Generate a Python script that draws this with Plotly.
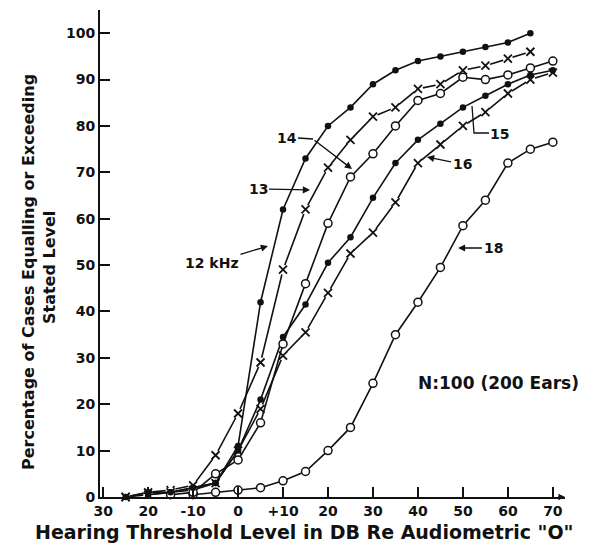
import plotly.graph_objects as go

# ---------------- data ----------------
x12 = [-25, -20, -15, -10, -5, 0, 5, 10, 15, 20, 25, 30, 35, 40, 45, 50, 55, 60, 65]
y12 = [0, 1, 1, 2, 3, 11, 42, 62, 73, 80, 84, 89, 92, 94, 95, 96, 97, 98, 100]

x13 = [-25, -20, -15, -10, -5, 0, 5, 10, 15, 20, 25, 30, 35, 40, 45, 50, 55, 60, 65]
y13 = [0, 1, 1.5, 2.5, 9, 18, 29, 49, 62, 71, 77, 82, 84, 88, 89, 92, 93, 94.5, 96]

x14 = [-15, -10, -5, 0, 5, 10, 15, 20, 25, 30, 35, 40, 45, 50, 55, 60, 65, 70]
y14 = [0.5, 1, 5, 8, 16, 33, 46, 59, 69, 74, 80, 85.5, 87, 90.5, 90, 91, 92.5, 94]

x15 = [-20, -15, -10, -5, 0, 5, 10, 15, 20, 25, 30, 35, 40, 45, 50, 55, 60, 65, 70]
y15 = [0.5, 1, 2, 3, 10, 21, 34.5, 41.5, 50.5, 56, 64.5, 72, 77, 80.5, 84, 86.5, 89, 91, 92]

x16 = [-25, -20, -15, -10, -5, 0, 5, 10, 15, 20, 25, 30, 35, 40, 45, 50, 55, 60, 65, 70]
y16 = [0, 0.5, 1, 1.5, 3, 10, 19, 30.5, 35.5, 44, 52.5, 57, 63.5, 72, 76, 80, 83, 87, 90, 91.5]

x18 = [-10, -5, 0, 5, 10, 15, 20, 25, 30, 35, 40, 45, 50, 55, 60, 65, 70]
y18 = [0.5, 1, 1.5, 2, 3.5, 5.5, 10, 15, 24.5, 35, 42, 49.5, 58.5, 64, 72, 75, 76.5]

x_tick_vals = [-30, -20, -10, 0, 10, 20, 30, 40, 50, 60, 70]
x_tick_text = ["30", "20", "-10", "0", "+10", "20", "30", "40", "50", "60", "70"]
y_tick_vals = [0, 10, 20, 30, 40, 50, 60, 70, 80, 90, 100]

# ---------------- layout constants ----------------
OFF = 8                      # page body margin offset
W_FIG, H_FIG = 597 - OFF, 549 - OFF
L, R, T, B = 100 - OFF, 32, 10 - OFF, 52
X0, X1 = -30.7, 72.7
Y0, Y1 = 0, 105
PW = W_FIG - L - R
PH = H_FIG - T - B
FONT = "DejaVu Sans"
INK = "#111111"


# positions below are given in reference-screen pixels
def px_to_x(px):
    return X0 + (px - OFF - L) / PW * (X1 - X0)


def py_to_y(py):
    return Y0 + (H_FIG - B - (py - OFF)) / PH * (Y1 - Y0)


def px_paper(px):
    return (px - OFF - L) / PW


def py_paper(py):
    return (H_FIG - B - (py - OFF)) / PH


fig = go.Figure()


def add_series(x, y, kind, name):
    if kind == "x":
        fig.add_trace(go.Scatter(x=x, y=y, mode="lines", name=name,
                                 line=dict(color=INK, width=1.6), cliponaxis=False,
                                 showlegend=False, hoverinfo="skip"))
        fig.add_trace(go.Scatter(x=x, y=y, mode="markers", showlegend=False,
                                 marker=dict(symbol="circle", size=10, color="white"),
                                 cliponaxis=False, hoverinfo="skip"))
        fig.add_trace(go.Scatter(x=x, y=y, mode="markers", name=name, showlegend=False,
                                 marker=dict(symbol="x-thin-open", size=8, color=INK,
                                             line=dict(color=INK, width=1.8)),
                                 cliponaxis=False))
    elif kind == "dot":
        fig.add_trace(go.Scatter(x=x, y=y, mode="lines+markers", name=name, showlegend=False,
                                 line=dict(color=INK, width=1.6),
                                 marker=dict(symbol="circle", size=6.5, color=INK),
                                 cliponaxis=False))
    else:
        fig.add_trace(go.Scatter(x=x, y=y, mode="lines+markers", name=name, showlegend=False,
                                 line=dict(color=INK, width=1.6),
                                 marker=dict(symbol="circle", size=8, color="white",
                                             line=dict(color=INK, width=1.5)),
                                 cliponaxis=False))


add_series(x13, y13, "x", "13 kHz")
add_series(x16, y16, "x", "16 kHz")
add_series(x18, y18, "circle", "18 kHz")
add_series(x15, y15, "dot", "15 kHz")
add_series(x14, y14, "circle", "14 kHz")
add_series(x12, y12, "dot", "12 kHz")

ann = []
lab_font = dict(family=FONT, size=14, color=INK, weight="bold")


def text_at(text, px, py, font, angle=0):
    ann.append(dict(x=px_paper(px), y=py_paper(py), xref="paper", yref="paper",
                    xanchor="center", yanchor="middle", textangle=angle,
                    text=text, showarrow=False, font=font))


def arrow_label(text, head_px, head_py, text_px, text_py):
    ann.append(dict(x=px_to_x(head_px), y=py_to_y(head_py), xref="x", yref="y",
                    ax=text_px - head_px, ay=text_py - head_py, axref="pixel", ayref="pixel",
                    text=text, showarrow=True, arrowhead=2, arrowsize=1.1, arrowwidth=1.3,
                    arrowcolor=INK, font=lab_font, standoff=0))


arrow_label("12 kHz", 268, 246, 212, 263)
arrow_label("13", 310, 190, 258, 189)
arrow_label("16", 427, 157, 462, 164)
arrow_label("18", 458, 248, 493, 248)
# 14: text plus bent leader
text_at("14", 287, 138, lab_font)
ann.append(dict(x=px_to_x(352), y=py_to_y(169), xref="x", yref="y",
                ax=313 - 352, ay=139 - 169, axref="pixel", ayref="pixel",
                text="", showarrow=True, arrowhead=2, arrowsize=1.1, arrowwidth=1.3,
                arrowcolor=INK))
# 15: text plus bracket
text_at("15", 499, 134, lab_font)
shapes = [
    dict(type="line", xref="x", yref="y", x0=px_to_x(298), y0=py_to_y(138),
         x1=px_to_x(313), y1=py_to_y(139), line=dict(color=INK, width=1.3)),
    dict(type="path", xref="x", yref="y",
         path="M %f,%f L %f,%f L %f,%f" % (px_to_x(472), py_to_y(106), px_to_x(474), py_to_y(133),
                                            px_to_x(489), py_to_y(133)),
         line=dict(color=INK, width=1.3)),
]

# N label
text_at("N:100 (200 Ears)", 498, 383, dict(family=FONT, size=17, color=INK, weight="bold"))

# axis titles
text_at("Hearing Threshold Level in DB Re Audiometric \"O\"", 304, 532,
        dict(family=FONT, size=19, color=INK, weight="bold"))
text_at("Percentage of Cases Equalling or Exceeding", 28, 272,
        dict(family=FONT, size=16, color=INK, weight="bold"), -90)
text_at("Stated Level", 49, 268, dict(family=FONT, size=16, color=INK, weight="bold"), -90)

# arrow at right end of the x axis
ann.append(dict(x=1.0, y=0, xref="paper", yref="paper", ax=-8, ay=0,
                showarrow=True, arrowhead=2, arrowsize=1, arrowwidth=1.3, arrowcolor=INK, text=""))

fig.update_layout(
    width=W_FIG, height=H_FIG,
    margin=dict(l=L, r=R, t=T, b=B),
    paper_bgcolor="white", plot_bgcolor="white",
    annotations=ann, shapes=shapes, showlegend=False,
    font=dict(family=FONT, color=INK),
    xaxis=dict(range=[X0, X1], showgrid=False, zeroline=False, showline=True,
               linecolor=INK, linewidth=2, ticks="inside", ticklen=10, tickwidth=1.6,
               tickcolor=INK, tickvals=x_tick_vals, ticktext=x_tick_text,
               tickfont=dict(family=FONT, size=14, color=INK, weight="bold")),
    yaxis=dict(range=[Y0, Y1], showgrid=False, zeroline=False, showline=True,
               linecolor=INK, linewidth=2, ticks="inside", ticklen=10, tickwidth=1.6,
               tickcolor=INK, tickvals=y_tick_vals,
               tickfont=dict(family=FONT, size=14, color=INK, weight="bold")),
)

fig.write_html("out.html")
